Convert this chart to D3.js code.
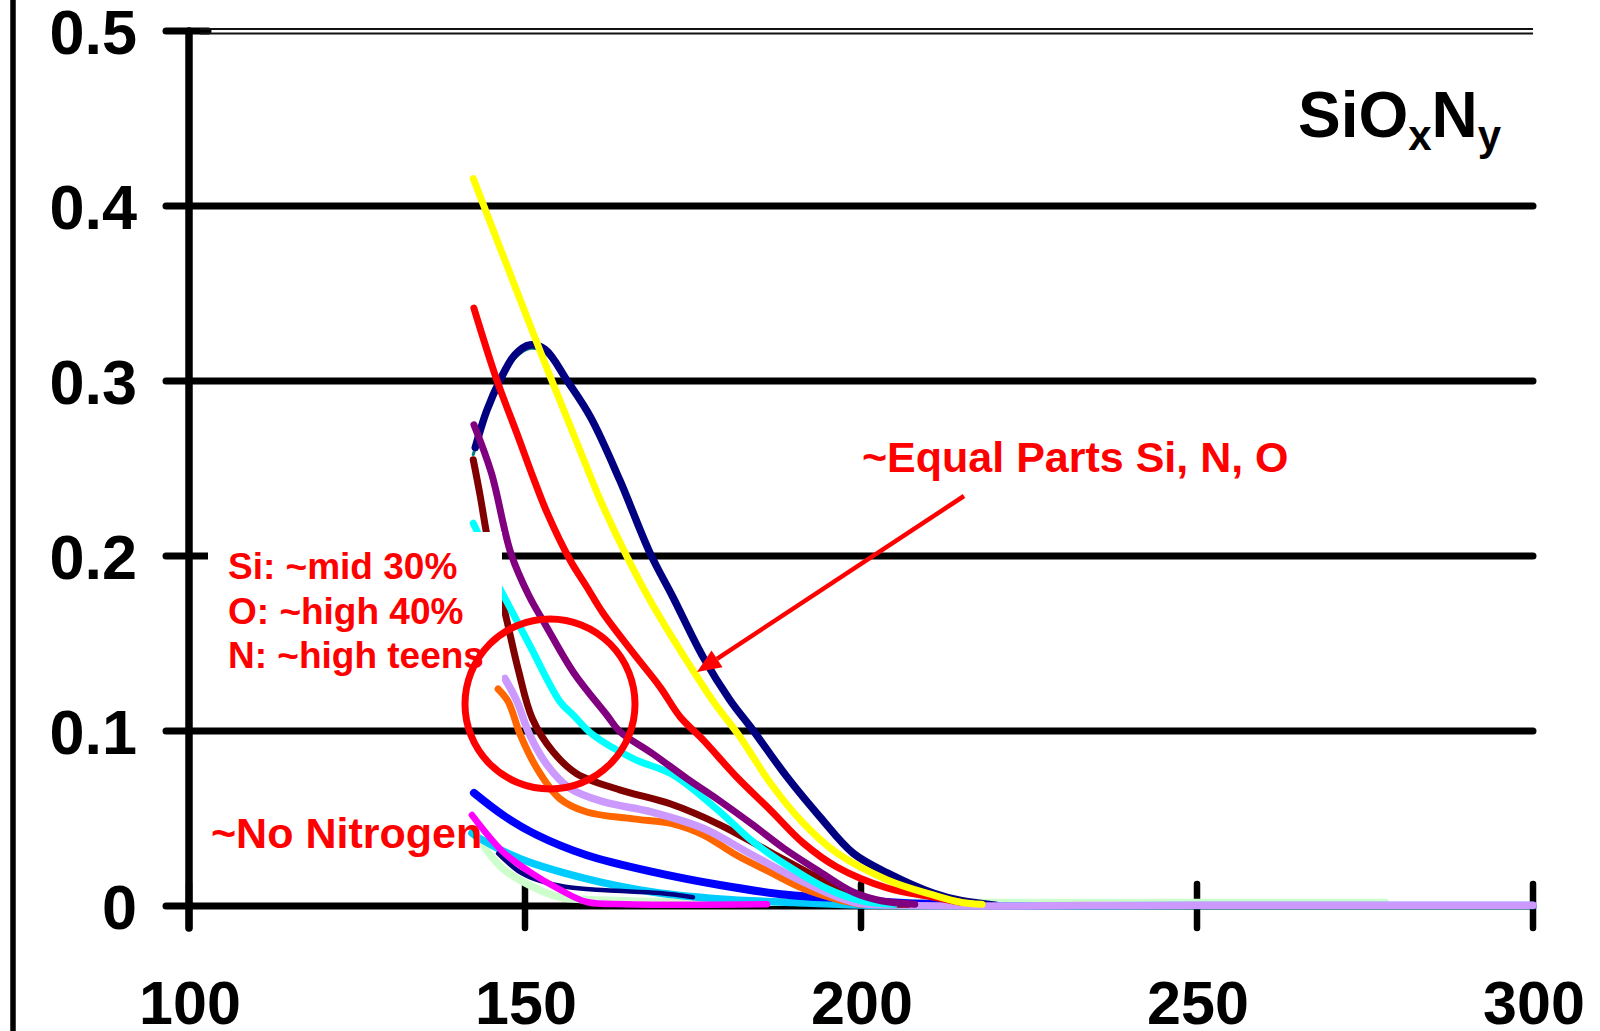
<!DOCTYPE html>
<html>
<head>
<meta charset="utf-8">
<script src="https://cdn.jsdelivr.net/npm/d3@7"></script>
<style>
body { margin: 0; background: #fff; }
svg { display: block; }
text { font-family: "Liberation Sans", Arial, Helvetica, sans-serif; font-weight: bold; }
</style>
</head>
<body>
<svg id="chart" width="1600" height="1031"></svg>
<script>
// axis ticks
var xTicks = [100, 150, 200, 250, 300];
var yTicks = [0, 0.1, 0.2, 0.3, 0.4, 0.5];

// curves, [x, value]
var navy = [[142.6,0.262],[144.3,0.283],[146.3,0.3006],[148.5,0.315],[150.7,0.3206],[153,0.318],[156.3,0.30],[159.8,0.279],[164.1,0.2434],[168.6,0.2017],[172,0.1766],[176.5,0.1423],[180.5,0.1177],[183.9,0.1006],[189,0.0737],[193.9,0.0509],[198.8,0.0303],[203.9,0.0189],[210.7,0.0074],[215,0.003],[220,0.0005]];
var teal = [[142.3,0.258],[144.3,0.281],[146.3,0.2986],[148.5,0.313],[150.7,0.3186],[153,0.316],[156.3,0.298],[159.8,0.279],[164.1,0.2434],[168.6,0.2017],[172,0.1766],[176.5,0.1423],[180.5,0.1177],[183.9,0.1006],[189,0.0737],[193.9,0.0509],[198.8,0.0303],[203.9,0.0189],[210.7,0.0074],[220,0.0005]];
var yellow = [[142.3,0.4157],[149.3,0.3463],[153.7,0.303],[157.7,0.265],[161.2,0.232],[165.2,0.1994],[169,0.172],[174.1,0.140],[178,0.117],[182,0.0966],[186.5,0.0703],[191.4,0.0474],[196.4,0.0303],[203.9,0.0149],[210.7,0.0063],[215,0.002],[218,0.001]];
var red = [[142.4,0.3416],[145.8,0.3006],[148.8,0.27],[151.2,0.245],[153.3,0.2246],[156.7,0.1977],[159.2,0.1823],[161.6,0.1674],[166.1,0.1446],[170.1,0.1251],[173.1,0.108],[176.5,0.0949],[181.5,0.0737],[186.5,0.0549],[191.4,0.036],[196.4,0.0223],[203.9,0.0103],[210.7,0.0051],[215,0.002]];
var purple = [[142.4,0.275],[145,0.2474],[147.9,0.2015],[150.5,0.178],[153.2,0.1596],[157.3,0.133],[162.2,0.109],[164.1,0.0997],[169,0.087],[174.1,0.0728],[179,0.06],[183.9,0.0464],[188.5,0.033],[193.9,0.0195],[198.8,0.008],[203,0.003],[208,0.001]];
var brown = [[142.3,0.255],[143.3,0.235],[144.3,0.2125],[145.5,0.19],[147,0.168],[149,0.135],[151.1,0.107],[154.2,0.088],[157.7,0.0756],[164.1,0.0664],[171.6,0.0584],[179,0.0464],[186.4,0.031],[193.9,0.0155],[198.8,0.007],[203,0.002],[207,0.001]];
var cyan = [[142.3,0.2187],[143,0.213],[144.5,0.195],[147,0.176],[150.7,0.149],[155.2,0.1168],[157.2,0.109],[160.1,0.0978],[166.1,0.0842],[172,0.075],[179,0.0538],[183.9,0.0368],[188.9,0.0234],[194.9,0.01],[200,0.003],[205,0.001]];
var orange = [[146,0.124],[147.5,0.1168],[149.3,0.0978],[151.8,0.0785],[155.2,0.0613],[159.2,0.0537],[166.1,0.0498],[172,0.047],[176.5,0.0407],[181.5,0.029],[186.4,0.0195],[191.4,0.01],[196.3,0.004],[200,0.001]];
var lavender = [[147,0.13],[148.8,0.117],[150.7,0.0978],[153.3,0.0806],[156.7,0.0672],[161.6,0.0596],[168.9,0.0537],[176.5,0.0444],[183.9,0.029],[191.4,0.0138],[198.8,0.0023],[205,0.0005],[250,0.0005],[300,0.0005]];
var blue = [[142.4,0.0646],[146.7,0.052],[151.7,0.0407],[159.2,0.029],[169,0.0195],[179,0.012],[188.9,0.0064],[198.8,0.004],[205,0.002],[212,0.001]];
var skyBlue = [[142.1,0.0417],[143.3,0.0385],[149.3,0.027],[159.2,0.0155],[169,0.008],[179,0.004],[190,0.002],[200,0.0005],[250,0.0003],[300,0.0003]];
var magenta = [[142.1,0.052],[146.7,0.031],[150.7,0.0195],[155.2,0.0093],[159.2,0.0023],[165,0.001],[186,0.001]];
var mint = [[143,0.039],[146.7,0.0213],[151.7,0.0099],[155.2,0.005],[165,0.003],[200,0.002],[240,0.002],[278,0.002]];
var navyLow = [[146,0.03],[149,0.02],[151.8,0.0149],[156,0.011],[162,0.009],[170,0.0074],[175,0.005]];

// bottom to top drawing order
var series = [
  {d: mint, c: "#ccffcc", w: 7.5},
  {d: skyBlue, c: "#00ccff", w: 7.5},
  {d: navyLow, c: "#000080", w: 4.5},
  {d: magenta, c: "#ff00ff", w: 6.5},
  {d: blue, c: "#0000ff", w: 8},
  {d: teal, c: "#008080", w: 3},
  {d: navy, c: "#000080", w: 7.5},
  {d: orange, c: "#ff6600", w: 7},
  {d: lavender, c: "#cc99ff", w: 7.5},
  {d: brown, c: "#800000", w: 7},
  {d: cyan, c: "#00ffff", w: 7},
  {d: purple, c: "#800080", w: 7},
  {d: red, c: "#ff0000", w: 7},
  {d: yellow, c: "#ffff00", w: 7}
];

var svg = d3.select("#chart");
var x = d3.scaleLinear().domain([100, 300]).range([189, 1533]);
var y = d3.scaleLinear().domain([0, 0.5]).range([906, 31]);

// left border of the slide
svg.append("line")
  .attr("x1", 13).attr("x2", 13).attr("y1", 0).attr("y2", 1031)
  .attr("stroke", "#000").attr("stroke-width", 5.5);

// grid lines
svg.selectAll(".grid")
  .data(yTicks.filter(function(d) { return d < 0.5; }))
  .enter().append("line")
  .attr("class", "grid")
  .attr("x1", 166).attr("x2", x(300))
  .attr("y1", function(d) { return y(d); })
  .attr("y2", function(d) { return y(d); })
  .attr("stroke", "#000").attr("stroke-width", 7)
  .attr("stroke-linecap", "round");

// top: short tick then double frame line
svg.append("line")
  .attr("x1", 166).attr("x2", 208).attr("y1", y(0.5)).attr("y2", y(0.5))
  .attr("stroke", "#000").attr("stroke-width", 7).attr("stroke-linecap", "round");
[-2, 2.5].forEach(function(off) {
  svg.append("line")
    .attr("x1", 200).attr("x2", x(300))
    .attr("y1", y(0.5) + off).attr("y2", y(0.5) + off)
    .attr("stroke", "#111").attr("stroke-width", 1.8);
});

// y axis
svg.append("line")
  .attr("x1", x(100)).attr("x2", x(100)).attr("y1", y(0.5)).attr("y2", y(0) + 22)
  .attr("stroke", "#000").attr("stroke-width", 7.5).attr("stroke-linecap", "round");

// x ticks cross the axis
svg.selectAll(".xtick")
  .data(xTicks)
  .enter().append("line")
  .attr("class", "xtick")
  .attr("x1", function(d) { return x(d); })
  .attr("x2", function(d) { return x(d); })
  .attr("y1", y(0) - 22).attr("y2", y(0) + 22)
  .attr("stroke", "#000").attr("stroke-width", 6.5).attr("stroke-linecap", "round");

// tick labels
svg.selectAll(".ylab")
  .data(yTicks)
  .enter().append("text")
  .attr("class", "ylab")
  .attr("x", 137)
  .attr("y", function(d) { return y(d) + 23; })
  .attr("text-anchor", "end")
  .attr("font-size", 63)
  .text(function(d) { return d === 0 ? "0" : d3.format(".1f")(d); });

svg.selectAll(".xlab")
  .data(xTicks)
  .enter().append("text")
  .attr("class", "xlab")
  .attr("x", function(d) { return x(d) + 1; })
  .attr("y", 1024)
  .attr("text-anchor", "middle")
  .attr("font-size", 61)
  .text(function(d) { return d; });

// curves
var line = d3.line()
  .x(function(d) { return x(d[0]); })
  .y(function(d) { return y(d[1]); })
  .curve(d3.curveCatmullRom.alpha(0.5));

svg.selectAll(".curve")
  .data(series)
  .enter().append("path")
  .attr("class", "curve")
  .attr("d", function(s) { return line(s.d); })
  .attr("fill", "none")
  .attr("stroke", function(s) { return s.c; })
  .attr("stroke-width", function(s) { return s.w; })
  .attr("stroke-linejoin", "round")
  .attr("stroke-linecap", "round");

// white box behind the composition note
svg.append("rect")
  .attr("x", 208).attr("y", 532).attr("width", 294).attr("height", 150)
  .attr("fill", "#fff");

var note = ["Si: ~mid 30%", "O: ~high 40%", "N: ~high teens"];
svg.selectAll(".note")
  .data(note)
  .enter().append("text")
  .attr("class", "note")
  .attr("x", 228)
  .attr("y", function(d, i) { return 579 + i * 44.5; })
  .attr("font-size", 37)
  .attr("fill", "#ff0000")
  .text(function(d) { return d; });

svg.append("text")
  .attr("x", 211).attr("y", 848)
  .attr("font-size", 43).attr("fill", "#ff0000")
  .text("~No Nitrogen");

svg.append("text")
  .attr("x", 862).attr("y", 472)
  .attr("font-size", 43).attr("fill", "#ff0000")
  .text("~Equal Parts Si, N, O");

// title
var title = svg.append("text").attr("x", 1298).attr("y", 137).attr("font-size", 64);
title.append("tspan").text("SiO");
title.append("tspan").attr("font-size", 42).attr("dy", 13).text("x");
title.append("tspan").attr("dy", -13).text("N");
title.append("tspan").attr("font-size", 42).attr("dy", 13).text("y");

// highlight circle
svg.append("circle")
  .attr("cx", 550).attr("cy", 704).attr("r", 85)
  .attr("fill", "none").attr("stroke", "#ff0000").attr("stroke-width", 7);

// arrow to the equal parts curve
var a0 = [964, 496], a1 = [697, 672];
var ang = Math.atan2(a1[1] - a0[1], a1[0] - a0[0]);
var hl = 24, hw = 10;
var back = [a1[0] - hl * Math.cos(ang), a1[1] - hl * Math.sin(ang)];
svg.append("line")
  .attr("x1", a0[0]).attr("y1", a0[1]).attr("x2", back[0]).attr("y2", back[1])
  .attr("stroke", "#ff0000").attr("stroke-width", 4.5);
svg.append("polygon")
  .attr("points", [
    a1,
    [back[0] + hw * Math.sin(ang), back[1] - hw * Math.cos(ang)],
    [back[0] - hw * Math.sin(ang), back[1] + hw * Math.cos(ang)]
  ].map(function(p) { return p.join(","); }).join(" "))
  .attr("fill", "#ff0000");
</script>
</body>
</html>
